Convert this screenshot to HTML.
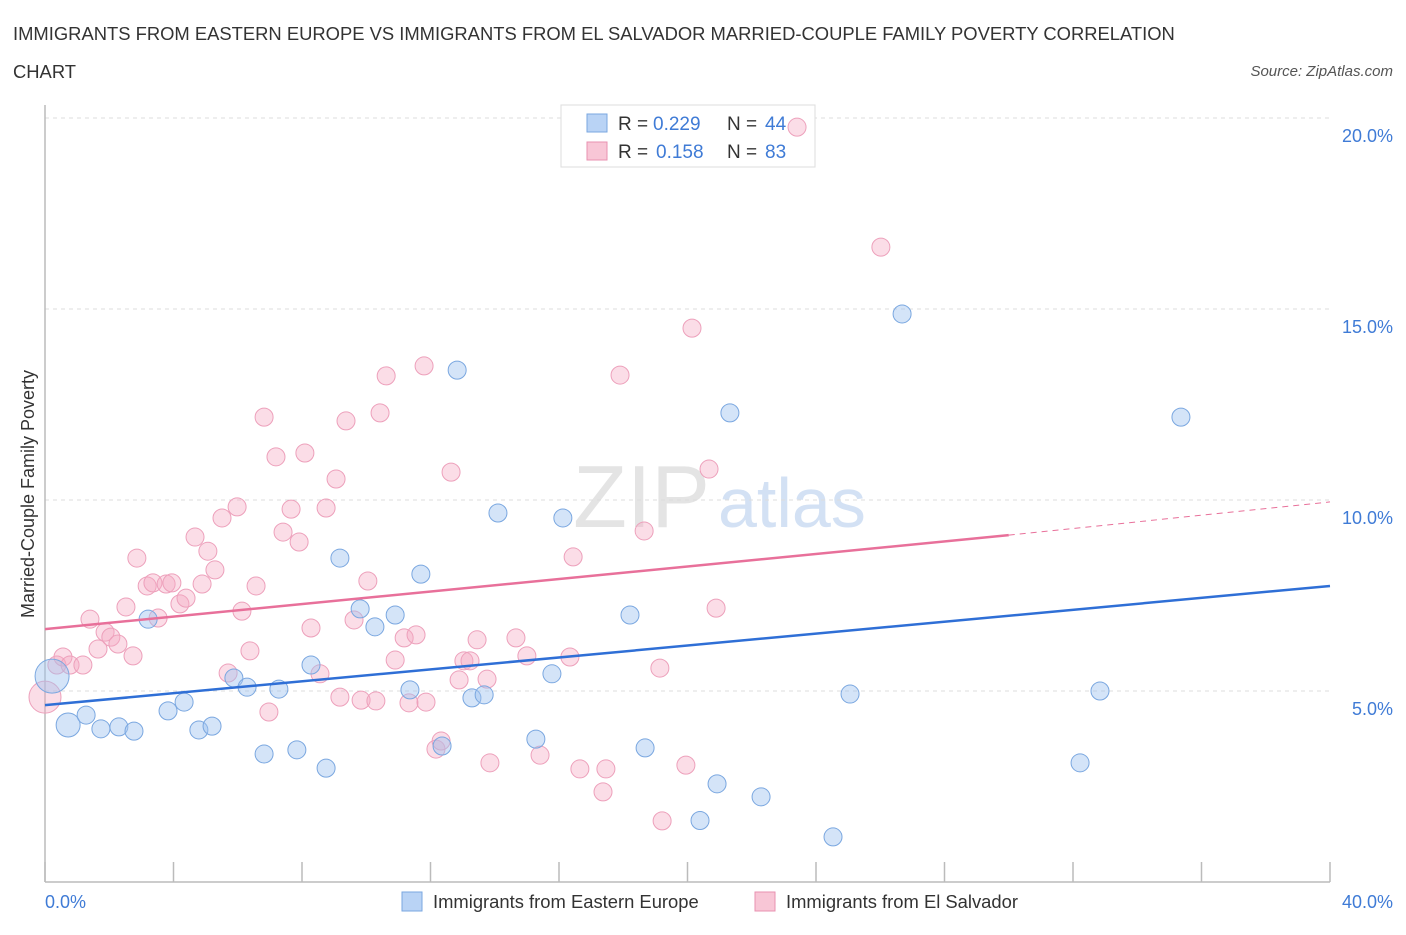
<!DOCTYPE html>
<html><head><meta charset="utf-8"><style>
body{margin:0;background:#fff;font-family:"Liberation Sans",sans-serif;}
svg text{font-family:"Liberation Sans",sans-serif;}
</style></head><body>
<svg id="chart" width="1406" height="930" viewBox="0 0 1406 930">
<text x="13" y="40" font-size="18.4" fill="#333">IMMIGRANTS FROM EASTERN EUROPE VS IMMIGRANTS FROM EL SALVADOR MARRIED-COUPLE FAMILY POVERTY CORRELATION</text>
<text x="13" y="78" font-size="18.4" fill="#333">CHART</text>
<text x="1393" y="76" font-size="15" fill="#555" font-style="italic" text-anchor="end">Source: ZipAtlas.com</text>
<text x="710" y="527" font-size="88" fill="#e4e4e4" font-family="Liberation Serif" text-anchor="end">ZIP</text>
<text x="718" y="527" font-size="70" fill="#d3e1f4">atlas</text>
<g id="grid"></g>
<line x1="45" y1="105" x2="45" y2="882" stroke="#bbb" stroke-width="1.5"/>
<line x1="45" y1="882" x2="1330" y2="882" stroke="#bbb" stroke-width="1.5"/>
<g id="ticks"></g>
<text transform="translate(34,494) rotate(-90)" font-size="18" fill="#333" text-anchor="middle">Married-Couple Family Poverty</text>
<text x="45" y="908" font-size="18" fill="#3f7bd6">0.0%</text>
<text x="1393" y="908" font-size="18" fill="#3f7bd6" text-anchor="end">40.0%</text>
<g>
<rect x="561" y="105" width="254" height="62" fill="#fff" stroke="#ddd"/>
<rect x="587" y="114" width="20" height="18" fill="#b9d3f5" stroke="#7aa7e0"/>
<text x="618" y="130" font-size="19" fill="#333">R =</text>
<text x="653" y="130" font-size="19" fill="#3f7bd6">0.229</text>
<text x="727" y="130" font-size="19" fill="#333">N =</text>
<text x="765" y="130" font-size="19" fill="#3f7bd6">44</text>
<rect x="587" y="142" width="20" height="18" fill="#f8c6d6" stroke="#e891b0"/>
<text x="618" y="158" font-size="19" fill="#333">R =</text>
<text x="656" y="158" font-size="19" fill="#3f7bd6">0.158</text>
<text x="727" y="158" font-size="19" fill="#333">N =</text>
<text x="765" y="158" font-size="19" fill="#3f7bd6">83</text>
</g>
<g id="points"></g>
<g id="lines"></g>
<g>
<rect x="402" y="892" width="20" height="19" fill="#b9d3f5" stroke="#7aa7e0"/>
<text x="433" y="908" font-size="18.4" fill="#333">Immigrants from Eastern Europe</text>
<rect x="755" y="892" width="20" height="19" fill="#f8c6d6" stroke="#e891b0"/>
<text x="786" y="908" font-size="18.4" fill="#333">Immigrants from El Salvador</text>
</g>
</svg>
<script>
const yTicks=[5,10,15,20];
const yTickLabels=["5.0%","10.0%","15.0%","20.0%"];
const blueX=[0.22,0.72,1.28,1.74,2.30,2.77,3.21,3.83,4.33,4.79,5.20,5.88,6.29,6.82,7.28,7.84,8.28,8.75,9.18,9.81,10.27,10.90,11.36,11.70,12.36,12.83,13.29,13.67,14.10,15.28,15.78,16.12,18.21,18.68,20.39,20.92,21.32,22.29,24.53,25.06,26.68,32.22,32.84,35.36];
const blueY=[5.39,4.11,4.37,4.01,4.06,3.95,6.88,4.48,4.71,3.98,4.08,5.34,5.10,3.35,5.05,3.46,5.68,2.98,8.48,7.15,6.68,6.99,5.03,8.06,3.56,13.40,4.82,4.90,9.66,3.74,5.45,9.53,6.99,3.51,1.61,2.57,12.28,2.23,1.18,4.92,14.87,3.12,5.00,12.17];
const pinkX=[0,0.37,0.56,0.78,1.18,1.40,1.65,1.87,2.05,2.27,2.52,2.74,2.86,3.18,3.36,3.52,3.77,3.95,4.20,4.39,4.67,4.89,5.07,5.29,5.51,5.70,5.98,6.13,6.38,6.57,6.82,6.97,7.19,7.41,7.66,7.91,8.09,8.28,8.56,8.75,9.06,9.18,9.37,9.62,9.84,10.05,10.30,10.43,10.62,10.90,11.18,11.33,11.55,11.80,11.86,12.17,12.33,12.64,12.89,13.04,13.23,13.45,13.76,13.85,14.66,15.00,15.41,16.34,16.44,16.65,17.37,17.46,17.90,18.65,19.14,19.21,19.95,20.14,20.67,20.89,23.41,26.02];
const pinkY=[4.84,5.68,5.89,5.68,5.68,6.88,6.10,6.54,6.41,6.23,7.20,5.92,8.48,7.75,7.83,6.91,7.80,7.83,7.28,7.43,9.03,7.80,8.66,8.17,9.53,5.47,9.82,7.09,6.05,7.75,12.17,4.45,11.13,9.16,9.76,8.90,11.23,6.65,5.45,9.79,10.55,4.84,12.07,6.86,4.76,7.88,4.74,12.28,13.25,5.81,6.39,4.69,6.47,13.51,4.71,3.48,3.69,10.73,5.29,5.79,5.79,6.34,5.31,3.12,6.39,5.92,3.32,5.89,8.51,2.96,2.36,2.96,13.27,9.19,5.60,1.60,3.06,14.50,10.81,7.17,19.76,16.62];
const blueTrend=[[0,4.63],[40,7.75]];
const pinkTrend=[[0,6.62],[30,9.08],[40,9.95]];
const X=v=>45+v/40*1285, Y=v=>882-v*38.2;
const NS="http://www.w3.org/2000/svg";
function mk(t,a,p){const e=document.createElementNS(NS,t);for(const k in a)e.setAttribute(k,a[k]);p.appendChild(e);return e;}
const grid=document.getElementById('grid');
yTicks.forEach((t,i)=>{
 const l=mk('line',{x1:45,x2:1330,y1:Y(t),y2:Y(t),stroke:'#ddd','stroke-dasharray':'4,4'},grid);
 
 
 const tx=mk('text',{x:1393,y:Y(t)+24,'font-size':18,fill:'#3f7bd6','text-anchor':'end'},grid);
 tx.textContent=yTickLabels[i];
 
 
});
const ticks=document.getElementById('ticks');
for(let i=0;i<=10;i++){
 const l=mk('line',{x1:X(i*4),x2:X(i*4),y1:862,y2:882,stroke:'#bbb','stroke-width':1.5},ticks);
 
 
}
const pts=document.getElementById('points');
pinkX.forEach((x,i)=>{
 const c=mk('circle',{cx:X(x),cy:Y(pinkY[i]),r:i==0?16:9,fill:'rgba(244,170,195,0.4)',stroke:'#eda0bb','stroke-width':1},pts);
 
 
});
blueX.forEach((x,i)=>{
 const c=mk('circle',{cx:X(x),cy:Y(blueY[i]),r:i==0?17:(i==1?12:9),fill:'rgba(160,195,240,0.45)',stroke:'#7aa7e0','stroke-width':1},pts);
 
 
});
const lines=document.getElementById('lines');
const bl=mk('line',{x1:X(blueTrend[0][0]),y1:Y(blueTrend[0][1]),x2:X(blueTrend[1][0]),y2:Y(blueTrend[1][1]),stroke:'#2f6fd6','stroke-width':2.5},lines);


const pl=mk('line',{x1:X(pinkTrend[0][0]),y1:Y(pinkTrend[0][1]),x2:X(pinkTrend[1][0]),y2:Y(pinkTrend[1][1]),stroke:'#e8709a','stroke-width':2.5},lines);


const pd=mk('line',{x1:X(pinkTrend[1][0]),y1:Y(pinkTrend[1][1]),x2:X(pinkTrend[2][0]),y2:Y(pinkTrend[2][1]),stroke:'#e8709a','stroke-width':1,'stroke-dasharray':'6,5'},lines);


</script>
</body></html>
